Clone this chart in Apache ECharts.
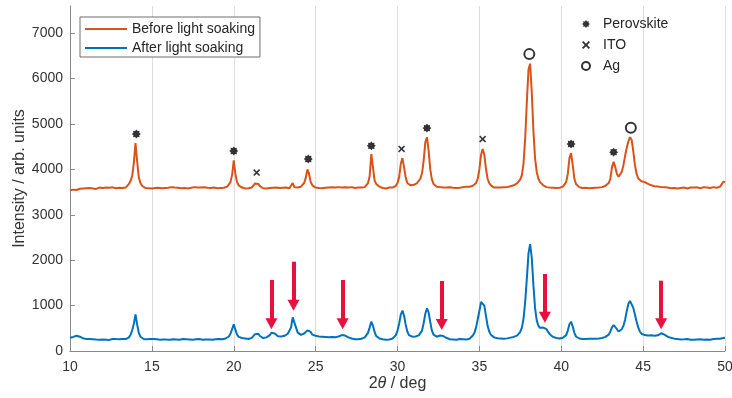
<!DOCTYPE html>
<html>
<head>
<meta charset="utf-8">
<script src="https://cdn.jsdelivr.net/npm/echarts@6/dist/echarts.min.js"></script>
<style>
  html, body { margin: 0; padding: 0; background: #ffffff; }
  #chart { width: 732px; height: 398px; }
</style>
</head>
<body>
<div id="chart"></div>
<script>
// XRD scans sampled every 0.1 deg in 2theta, from 10 to 50 deg.
const angleStart = 10;
const angleStep = 0.1;

// Intensity (arb. units), one row per degree.
const beforeSoaking = [
  3540, 3560, 3555, 3570, 3548, 3565, 3575, 3560, 3580, 3570,
  3585, 3570, 3590, 3575, 3580, 3595, 3570, 3585, 3600, 3580,
  3590, 3575, 3600, 3585, 3595, 3580, 3605, 3590, 3585, 3600,
  3595, 3610, 3590, 3605, 3600, 3640, 3680, 3750, 3860, 4150,
  4580, 4180, 3830, 3700, 3640, 3610, 3590, 3600, 3585, 3595,
  3580, 3600, 3590, 3575, 3595, 3605, 3585, 3600, 3590, 3580,
  3595, 3585, 3610, 3590, 3600, 3580, 3595, 3605, 3585, 3600,
  3590, 3605, 3580, 3600, 3595, 3585, 3610, 3590, 3600, 3585,
  3600, 3590, 3605, 3585, 3595, 3610, 3590, 3580, 3600, 3595,
  3585, 3600, 3590, 3605, 3595, 3610, 3620, 3650, 3720, 3880,
  4200, 3900, 3720, 3650, 3620, 3600, 3590, 3580, 3600, 3585,
  3590, 3600, 3630, 3690, 3720, 3680, 3630, 3600, 3585, 3595,
  3580, 3600, 3590, 3575, 3595, 3585, 3600, 3580, 3590, 3575,
  3595, 3580, 3600, 3590, 3585, 3600, 3700, 3610, 3590, 3600,
  3605, 3620, 3650, 3700, 3820, 4000, 3900, 3720, 3650, 3620,
  3600, 3610, 3590, 3600, 3585, 3605, 3595, 3580, 3600, 3590,
  3605, 3590, 3600, 3585, 3610, 3595, 3600, 3590, 3605, 3595,
  3600, 3585, 3610, 3595, 3590, 3605, 3600, 3620, 3600, 3590,
  3610, 3640, 3700, 3850, 4340, 4050, 3760, 3680, 3640, 3620,
  3600, 3590, 3605, 3580, 3595, 3600, 3610, 3600, 3620, 3640,
  3700, 3830, 4120, 4250, 4050, 3820, 3700, 3660, 3650, 3670,
  3660, 3680, 3700, 3740, 3800, 3920, 4200, 4600, 4710, 4420,
  4000, 3780, 3680, 3640, 3620, 3600, 3610, 3590, 3600, 3585,
  3600, 3590, 3605, 3585, 3595, 3600, 3590, 3605, 3595, 3600,
  3610, 3600, 3620, 3605, 3620, 3630, 3640, 3650, 3700, 3800,
  4000, 4320, 4450, 4330, 4020, 3800, 3700, 3650, 3620, 3600,
  3590, 3600, 3580, 3600, 3590, 3605, 3595, 3610, 3620, 3630,
  3640, 3650, 3670, 3690, 3720, 3780, 3880, 4150, 4700, 5500,
  6200, 6330, 5700, 4850, 4250, 3950, 3800, 3720, 3680, 3650,
  3630, 3610, 3620, 3600, 3610, 3595, 3600, 3590, 3605, 3595,
  3600, 3620, 3650, 3720, 3900, 4250, 4360, 4100, 3800, 3680,
  3640, 3610, 3600, 3590, 3605, 3595, 3600, 3585, 3600, 3590,
  3600, 3595, 3610, 3600, 3620, 3610, 3630, 3640, 3660, 3700,
  3800, 4050, 4170, 4050, 3900, 3840, 3870, 3950, 4100, 4300,
  4480, 4620, 4710, 4650, 4400, 4100, 3900, 3800, 3760, 3740,
  3730, 3720, 3700, 3680, 3660, 3650, 3640, 3630, 3620, 3625,
  3615, 3610, 3600, 3605, 3590, 3600, 3595, 3585, 3600, 3590,
  3595, 3580, 3600, 3590, 3585, 3600, 3590, 3580, 3595, 3600,
  3585, 3600, 3590, 3605, 3595, 3585, 3600, 3610, 3595, 3600,
  3605, 3590, 3600, 3610, 3600, 3595, 3610, 3620, 3650, 3730,
  3720
];

const afterSoaking = [
  290, 300, 310, 325, 335, 330, 315, 295, 280, 270,
  262, 255, 265, 250, 260, 268, 252, 260, 248, 262,
  255, 265, 250, 260, 245, 258, 266, 250, 262, 255,
  260, 250, 265, 255, 262, 275, 300, 360, 460, 600,
  808, 590, 400, 315, 280, 265, 255, 260, 250, 262,
  255, 262, 248, 258, 265, 250, 260, 255, 268, 252,
  260, 250, 265, 258, 270, 255, 262, 250, 258, 265,
  252, 260, 268, 255, 262, 250, 265, 258, 252, 262,
  258, 250, 262, 255, 265, 252, 260, 248, 262, 258,
  255, 265, 260, 258, 268, 275, 290, 320, 380, 480,
  590, 470, 360, 310, 290, 285, 280, 275, 270, 265,
  275, 290, 320, 370, 405, 380, 330, 300, 285, 290,
  300, 315, 350, 400, 410, 385, 350, 325, 315, 320,
  325, 335, 350, 380, 420, 520, 740, 700, 520, 410,
  370, 355, 360, 385, 420, 455, 478, 420, 360, 340,
  335, 330, 320, 325, 315, 320, 310, 315, 305, 300,
  310, 300, 305, 315, 320, 335, 350, 350, 340, 320,
  300, 285, 275, 265, 260, 268, 258, 265, 270, 285,
  300, 330, 400, 520, 646, 560, 420, 330, 290, 275,
  265, 258, 262, 250, 260, 255, 265, 275, 300, 350,
  450, 600, 800, 888, 780, 580, 430, 350, 320, 315,
  316, 320, 330, 345, 380, 450, 620, 820, 940, 850,
  640, 450, 360, 320, 315, 325, 340, 350, 330, 300,
  285, 270, 260, 265, 255, 262, 250, 258, 265, 255,
  260, 268, 255, 262, 270, 310, 340, 400, 520, 700,
  880, 1080, 1123, 1000, 780, 560, 430, 360, 320, 300,
  290, 280, 285, 275, 280, 270, 285, 278, 290, 295,
  300, 310, 320, 340, 370, 420, 520, 720, 1100, 1600,
  2150, 2357, 2050, 1450, 950, 680, 560, 510, 500, 515,
  522, 480, 420, 370, 330, 310, 290, 285, 280, 275,
  280, 290, 310, 350, 450, 590, 646, 540, 400, 320,
  290, 275, 280, 265, 270, 262, 275, 268, 260, 272,
  265, 270, 262, 275, 280, 285, 295, 310, 330, 360,
  430, 520, 573, 545, 480, 430, 440, 480, 560, 690,
  880, 1040, 1101, 1080, 950, 800, 650, 520, 430, 380,
  360, 350, 345, 340, 350, 345, 340, 335, 340, 345,
  365, 390, 385, 360, 335, 315, 300, 290, 280, 272,
  268, 262, 270, 255, 265, 258, 250, 262, 255, 248,
  258, 250, 262, 255, 245, 258, 265, 250, 260, 255,
  262, 250, 258, 265, 255, 268, 260, 270, 275, 285,
  290
];

// Phase markers placed above the peaks of the upper scan: [2theta, intensity].
const perovskitePeaks = [[14.05, 4780], [20.0, 4405], [24.55, 4230], [28.4, 4520], [31.8, 4910], [40.6, 4560], [43.2, 4380]];
const itoPeaks = [[21.4, 3930], [30.25, 4450], [35.2, 4670]];
const agPeaks = [[38.05, 6540], [44.25, 4920]];

// Arrows pointing at peaks that appear after light soaking.
const arrowAngles = [22.3, 23.65, 26.65, 32.7, 39.0, 46.1];
const arrowFrom = [1564, 1967, 1564, 1542, 1696, 1549];
const arrowTo = [600, 1010, 600, 585, 745, 600];

const yTicks = [0, 1000, 2000, 3000, 4000, 5000, 6000, 7000];

const seriesNames = ['Before light soaking', 'After light soaking'];
const phaseNames = ['Perovskite', 'ITO', 'Ag'];

const toPairs = vals => vals.map((v, i) => [+(angleStart + i * angleStep).toFixed(1), v]);

const asteriskPath = 'path://M20 10 L16.47 12.68 L17.07 17.07 L12.68 16.47 L10 20 L7.32 16.47 L2.93 17.07 L3.53 12.68 L0 10 L3.53 7.32 L2.93 2.93 L7.32 3.53 L10 0 L12.68 3.53 L17.07 2.93 L16.47 7.32 Z';
const crossPath = 'path://M0 1.6 L1.6 0 L5 3.4 L8.4 0 L10 1.6 L6.6 5 L10 8.4 L8.4 10 L5 6.6 L1.6 10 L0 8.4 L3.4 5 Z';
const legendLine = 'path://M0 0 L42 0 L42 2 L0 2 Z';

const font = '"Liberation Sans", Arial, Helvetica, sans-serif';
const axisGray = '#8a8a8a';
const textColor = '#333333';

const chart = echarts.init(document.getElementById('chart'));
chart.setOption({
  animation: false,
  backgroundColor: '#ffffff',
  textStyle: { fontFamily: font },
  grid: { left: 70, right: 7, top: 6, bottom: 47, containLabel: false, outerBoundsMode: 'none' },
  xAxis: {
    type: 'value',
    min: 10,
    max: 50,
    interval: 5,
    axisLine: { show: true, lineStyle: { color: axisGray, width: 1 } },
    axisTick: { show: true, inside: true, length: 5, lineStyle: { color: axisGray } },
    axisLabel: { fontSize: 14, color: textColor, margin: 9, fontFamily: font, formatter: v => String(v) },
    splitLine: { show: true, lineStyle: { color: '#dddddd', width: 1 } },
    name: '2{i|θ} / deg',
    nameLocation: 'middle',
    nameGap: 25,
    nameMoveOverlap: false,
    nameTextStyle: {
      fontSize: 16, color: textColor, fontFamily: font,
      rich: { i: { fontStyle: 'italic', fontSize: 16, color: textColor, fontFamily: font } }
    }
  },
  yAxis: {
    type: 'value',
    min: 0,
    max: 7600,
    interval: 1000,
    axisLine: { show: true, lineStyle: { color: axisGray, width: 1 } },
    axisTick: { show: true, inside: true, length: 5, customValues: yTicks, lineStyle: { color: axisGray } },
    axisLabel: { fontSize: 14, color: textColor, margin: 7, customValues: yTicks, fontFamily: font, formatter: v => String(v) },
    splitLine: { show: false },
    name: 'Intensity / arb. units',
    nameLocation: 'middle',
    nameGap: 42,
    nameMoveOverlap: false,
    nameTextStyle: { fontSize: 16, color: textColor, fontFamily: font }
  },
  legend: [
    {
      data: seriesNames.map(n => ({ name: n, icon: legendLine })),
      orient: 'vertical',
      left: 80,
      top: 17,
      itemWidth: 42,
      itemHeight: 14,
      itemGap: 5,
      padding: [5, 5, 2, 5],
      borderColor: '#6e6e6e',
      borderWidth: 1,
      backgroundColor: '#ffffff',
      selectedMode: false,
      textStyle: { fontSize: 14, color: '#262626', fontFamily: font }
    },
    {
      data: phaseNames,
      orient: 'vertical',
      left: 581,
      top: 17,
      itemWidth: 24,
      itemHeight: 8,
      itemGap: 7,
      padding: 0,
      selectedMode: false,
      textStyle: { fontSize: 14, color: '#262626', fontFamily: font }
    }
  ],
  series: [
    {
      name: seriesNames[0],
      type: 'line',
      data: toPairs(beforeSoaking),
      symbol: 'none',
      lineStyle: { color: '#D95319', width: 2 },
      itemStyle: { color: '#D95319' },
      z: 3
    },
    {
      name: seriesNames[1],
      type: 'line',
      data: toPairs(afterSoaking),
      symbol: 'none',
      lineStyle: { color: '#0072BD', width: 2 },
      itemStyle: { color: '#0072BD' },
      z: 3,
      markLine: {
        silent: true,
        symbol: ['none', 'triangle'],
        symbolSize: [12, 11],
        label: { show: false },
        emphasis: { disabled: true },
        lineStyle: { color: '#e8103f', width: 4, type: 'solid' },
        itemStyle: { color: '#e8103f' },
        data: arrowAngles.map((x, i) => [{ coord: [x, arrowFrom[i]] }, { coord: [x, arrowTo[i]] }])
      }
    },
    {
      name: phaseNames[0],
      type: 'scatter',
      data: perovskitePeaks,
      symbol: asteriskPath,
      symbolSize: 9,
      itemStyle: { color: '#000000' },
      z: 5
    },
    {
      name: phaseNames[1],
      type: 'scatter',
      data: itoPeaks,
      symbol: crossPath,
      symbolSize: 7,
      itemStyle: { color: '#000000' },
      z: 5
    },
    {
      name: phaseNames[2],
      type: 'scatter',
      data: agPeaks,
      symbol: 'circle',
      symbolSize: 10,
      itemStyle: { color: 'rgba(255,255,255,0)', borderColor: '#000000', borderWidth: 2 },
      z: 5
    }
  ]
});
</script>
</body>
</html>
